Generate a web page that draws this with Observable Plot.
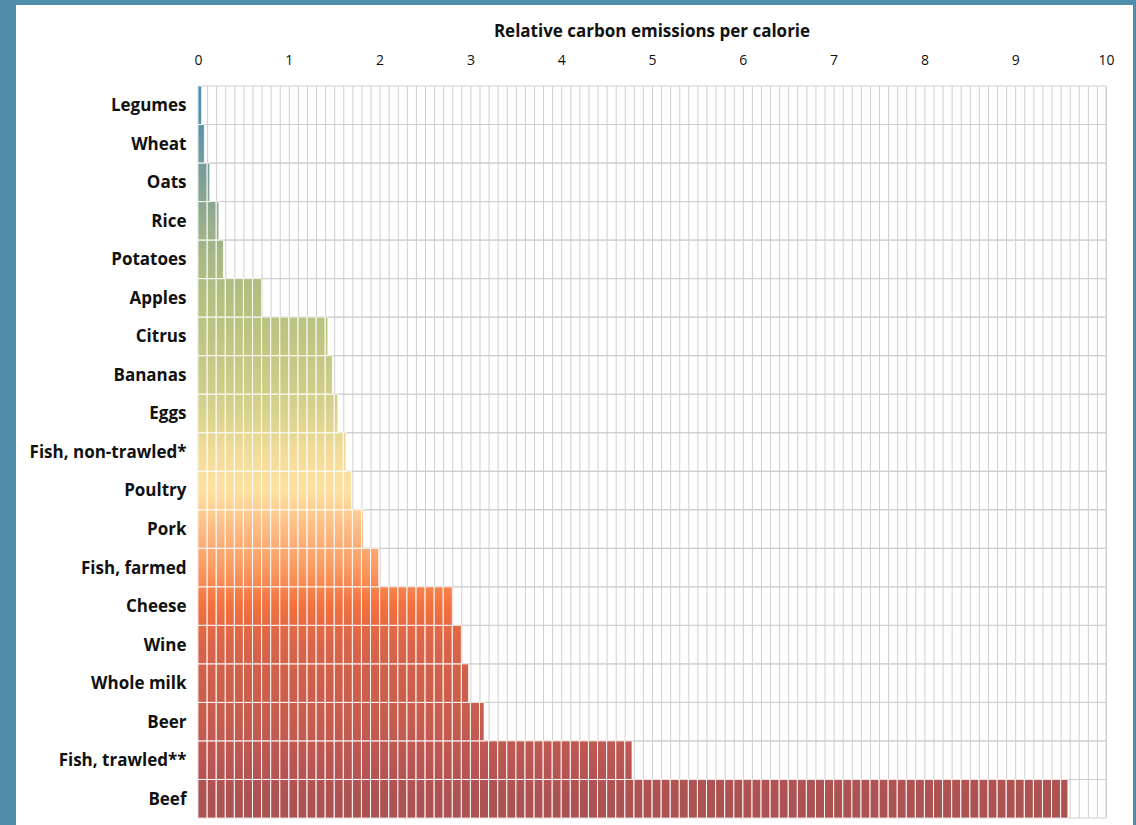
<!DOCTYPE html>
<html>
<head>
<meta charset="utf-8">
<script src="https://cdn.jsdelivr.net/npm/d3@7"></script>
<script src="https://cdn.jsdelivr.net/npm/@observablehq/plot@0.6"></script>
<style>
  html, body { margin: 0; padding: 0; background: #4e8eab; width: 1136px; height: 825px; overflow: hidden; }
  #panel { position: absolute; left: 16px; top: 5px; width: 1117px; height: 830px; background: #fff; }
  #title { box-sizing: border-box; height: 40px; padding: 16px 27px 4px 182px; text-align: center;
           font-family: "Open Sans", Lato, sans-serif; font-weight: 700; font-size: 17px; line-height: 20px; color: #111; }
  svg { display: block; }
</style>
</head>
<body>
<div id="panel">
  <div id="title">Relative carbon emissions per calorie</div>
  <div id="chart"></div>
</div>
<script>
const foods = ["Legumes","Wheat","Oats","Rice","Potatoes","Apples","Citrus","Bananas","Eggs",
  "Fish, non-trawled*","Poultry","Pork","Fish, farmed","Cheese","Wine","Whole milk","Beer",
  "Fish, trawled**","Beef"];
const emissions = [0.04,0.07,0.13,0.23,0.28,0.70,1.43,1.48,1.54,1.63,1.69,1.82,1.99,2.80,2.90,2.98,3.15,4.78,9.58];
const xTicks = [0,1,2,3,4,5,6,7,8,9,10];

// gradient colours, one per row from top to bottom
const gradientColors = ["#4f8fae","#6897a3","#7fa194","#96ad8d","#a9b985","#b4c07f","#bec582","#cacb87",
  "#d8d38d","#f2dc99","#fee1a0","#fdbb84","#fa9b62","#f2703e","#d8654a","#cd604b","#c55d4e","#ba5653","#ab5252"];

const data = foods.map((f, i) => ({food: f, value: emissions[i]}));
// subdivide each bar into 0.1-wide cells (matches the reference's cell pattern)
const cells = [];
for (const d of data) {
  for (let k = 0; k / 10 < d.value - 1e-9; k++) {
    cells.push({food: d.food, x1: k / 10, x2: Math.min((k + 1) / 10, d.value)});
  }
}
const minorTicks = d3.range(0, 101).map(i => i / 10);

function gradientDefs(index, scales, values, dimensions) {
  const defs = d3.create("svg:defs");
  const g = defs.append("linearGradient")
    .attr("id", "barGrad")
    .attr("gradientUnits", "userSpaceOnUse")
    .attr("x1", 0).attr("x2", 0)
    .attr("y1", dimensions.marginTop)
    .attr("y2", dimensions.height - dimensions.marginBottom);
  const n = gradientColors.length;
  gradientColors.forEach((c, i) => {
    g.append("stop").attr("offset", ((i + 0.5) / n)).attr("stop-color", c);
  });
  return defs.node();
}

const chart = Plot.plot({
  width: 1117,
  height: 780,
  marginLeft: 182,
  marginRight: 27,
  marginTop: 41,
  marginBottom: 7,
  style: {fontFamily: "'Open Sans', Lato, sans-serif", background: "transparent", color: "#111"},
  x: {domain: [0, 10], round: false},
  y: {domain: foods, padding: 0, round: false},
  marks: [
    gradientDefs,
    Plot.ruleX(minorTicks, {stroke: "#cfcfcf", strokeWidth: 1, strokeOpacity: 1}),
    Plot.barX(foods, {x1: 0, x2: 10, y: d => d, fill: "none", stroke: "#cfcfcf", strokeWidth: 1}),
    Plot.barX(data, {x: "value", y: "food", fill: "url(#barGrad)"}),
    Plot.barX(cells, {x1: "x1", x2: "x2", y: "food", fill: "none", stroke: "white", strokeWidth: 1, strokeOpacity: 0.75}),
    Plot.axisX({anchor: "top", ticks: xTicks, tickSize: 0, tickPadding: 22, fontSize: 14, label: null, tickFormat: d => String(d)}),
    Plot.axisY({tickSize: 0, tickPadding: 12, fontSize: 17, fontWeight: 700, label: null})
  ]
});
document.getElementById("chart").appendChild(chart);
</script>
</body>
</html>
